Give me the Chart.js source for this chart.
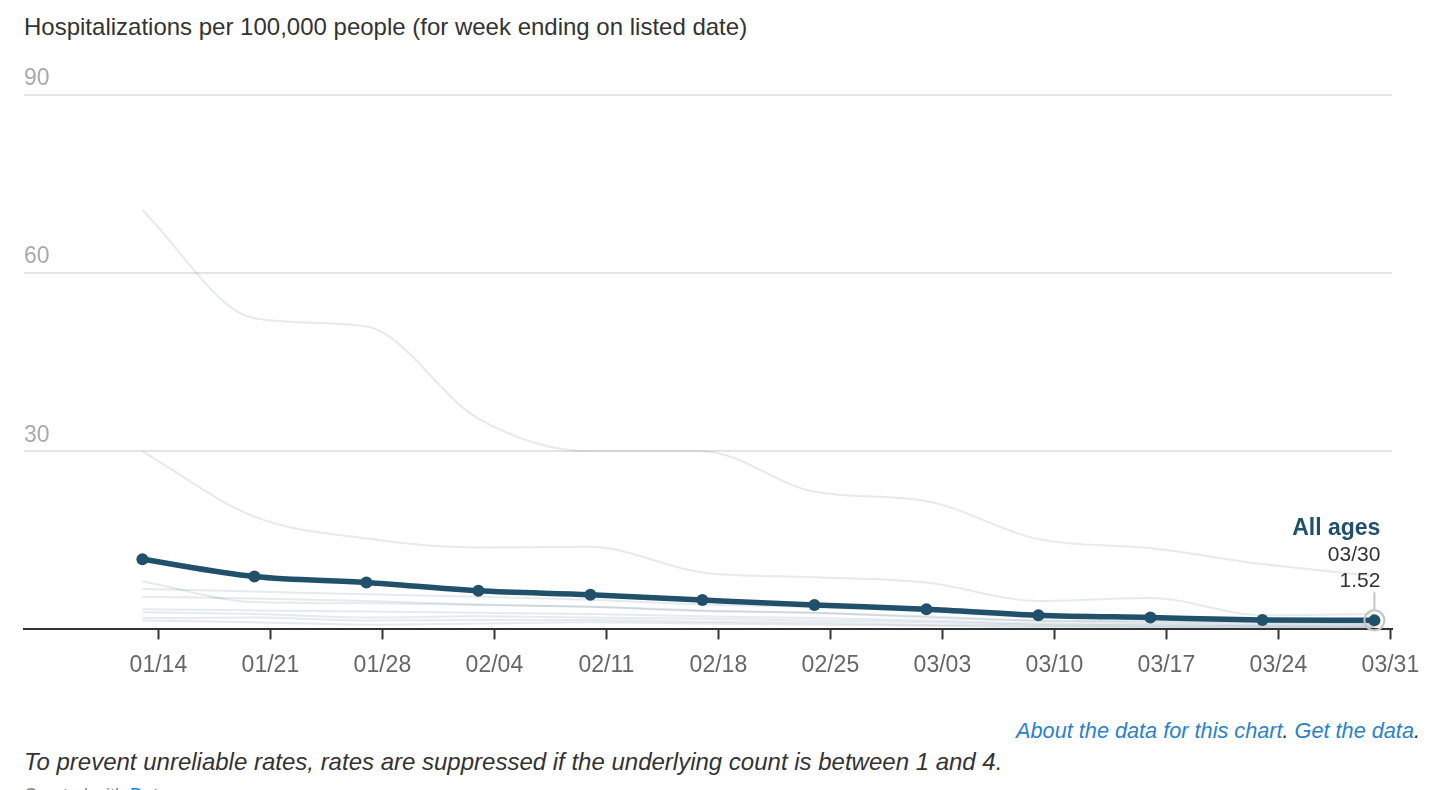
<!DOCTYPE html>
<html>
<head>
<meta charset="utf-8">
<title>Hospitalizations per 100,000 people</title>
<script src="https://cdn.jsdelivr.net/npm/chart.js@4.4.1/dist/chart.umd.min.js"></script>
<style>
    body {
        margin: 0;
        width: 1452px;
        height: 790px;
        overflow: hidden;
        position: relative;
        background: #fff;
        font-family: 'Liberation Sans', Arial, Helvetica, sans-serif;
        color: #333;
    }
    #title {
        position: absolute;
        left: 24px;
        top: 12px;
        font-size: 24px;
        line-height: 30px;
        white-space: nowrap;
    }
    #chartWrap {
        position: absolute;
        left: 0;
        top: 0;
    }
    .note {
        position: absolute;
        font-style: italic;
        font-size: 22px;
        line-height: 26px;
        white-space: nowrap;
    }
    #links { right: 32px; top: 718px; font-size: 21.7px; color: #333; }
    #links span { color: #2a82c9; }
    #caption { left: 24px; top: 748px; font-size: 24px; line-height: 28px; }
    #credit { left: 24px; top: 782px; font-style: normal; font-size: 18px; color: #888; }
    #credit span { color: #2a82c9; }
</style>
</head>
<body>
<div id="title">Hospitalizations per 100,000 people (for week ending on listed date)</div>
<div id="chartWrap"><canvas id="hospChart" width="1452" height="700"></canvas></div>
<div class="note" id="links"><span>About the data for this chart</span>. <span>Get the data</span>.</div>
<div class="note" id="caption">To prevent unreliable rates, rates are suppressed if the underlying count is between 1 and 4.</div>
<div class="note" id="credit">Created with <span>Datawrapper</span></div>

<script>
// week ending dates (2024) and x-axis tick labels
const weekEnding = ['01/13', '01/20', '01/27', '02/03', '02/10', '02/17', '02/24', '03/02', '03/09', '03/16', '03/23', '03/30'];
const tickDates = ['01/14', '01/21', '01/28', '02/04', '02/11', '02/18', '02/25', '03/03', '03/10', '03/17', '03/24', '03/31'];
const yTicks = [0, 30, 60, 90];

// highlighted series
const allAges = [11.8, 8.9, 7.9, 6.5, 5.85, 4.95, 4.1, 3.4, 2.4, 2.0, 1.6, 1.52];

// other age groups (faint background lines)
const otherGroup1 = [70.6, 52.4, 51.0, 35.5, 30.0, 30.0, 23.2, 21.6, 15.2, 13.7, 11.0, 9.0];
const otherGroup2 = [30.0, 19.0, 15.3, 13.8, 13.9, 9.6, 8.8, 7.9, 4.8, 5.3, 2.4, 2.6];
const otherGroup3 = [8.1, 4.6, 4.4, 4.1, 3.8, 3.1, 2.8, 2.2, 1.5, 1.4, 1.2, 1.0];
const otherGroup4 = [6.8, 6.4, 5.9, 5.5, 5.0, 4.2, 3.8, 3.0, 2.0, 1.8, 1.4, 1.3];
const otherGroup5 = [5.5, 5.2, 4.8, 4.2, 3.8, 3.2, 2.8, 2.0, 1.4, 1.2, 1.0, 0.9];
const otherGroup6 = [3.4, 3.2, 3.0, 2.8, 2.6, 2.2, 1.9, 1.5, 1.0, 0.9, 0.7, 0.7];
const otherGroup7 = [2.9, 2.6, 2.0, 2.2, 2.0, 1.8, 1.5, 1.2, 0.8, 0.7, 0.6, 0.5];
const otherGroup8 = [1.9, 2.0, 1.5, 1.6, 1.6, 1.3, 1.1, 0.8, 0.6, 0.5, 0.4, 0.4];
const otherGroup9 = [1.5, 1.2, 0.8, 1.0, 1.2, 1.0, 0.8, 0.6, 0.4, 0.4, 0.3, 0.3];

const otherGroups = [otherGroup1, otherGroup2, otherGroup3, otherGroup4, otherGroup5,
    otherGroup6, otherGroup7, otherGroup8, otherGroup9];

const MAIN_COLOR = '#21506a';
const FAINT_COLOR = 'rgba(33, 80, 106, 0.12)';

// 2024 is a leap year
const monthStart = [0, 31, 60, 91, 121, 152, 182, 213, 244, 274, 305, 335];

function dayOfYear(mmdd) {
    const [m, d] = mmdd.split('/').map(Number);
    return monthStart[m - 1] + d;
}

const weekDays = weekEnding.map(dayOfYear);
const tickDays = tickDates.map(dayOfYear);

function toPoints(values) {
    return values.map((v, i) => ({ x: weekDays[i], y: v }));
}

/**
 * Label + ring for the last point of the highlighted line
 */
const lastPointLabel = {
    id: 'lastPointLabel',
    afterDatasetsDraw(chart) {
        const meta = chart.getDatasetMeta(0);
        const pt = meta.data[meta.data.length - 1];
        const last = allAges.length - 1;
        const ctx = chart.ctx;
        ctx.save();

        ctx.strokeStyle = '#c4c4c4';
        ctx.lineWidth = 2;
        ctx.beginPath();
        ctx.arc(pt.x, pt.y, 10, 0, Math.PI * 2);
        ctx.stroke();
        ctx.beginPath();
        ctx.moveTo(pt.x, pt.y - 10);
        ctx.lineTo(pt.x, pt.y - 28);
        ctx.stroke();

        ctx.textAlign = 'right';
        ctx.textBaseline = 'middle';
        ctx.fillStyle = MAIN_COLOR;
        ctx.font = 'bold 23px "Liberation Sans", Arial, sans-serif';
        ctx.fillText('All ages', pt.x + 6, pt.y - 92);
        ctx.fillStyle = '#333';
        ctx.font = '21px "Liberation Sans", Arial, sans-serif';
        ctx.fillText(weekEnding[last], pt.x + 6, pt.y - 65);
        ctx.fillText(allAges[last].toFixed(2), pt.x + 6, pt.y - 39);
        ctx.restore();
    }
};

const datasets = [{
    label: 'All ages',
    data: toPoints(allAges),
    borderColor: MAIN_COLOR,
    backgroundColor: MAIN_COLOR,
    borderWidth: 5.5,
    pointRadius: 6,
    pointBorderWidth: 0,
    cubicInterpolationMode: 'monotone'
}];

otherGroups.forEach((values, i) => {
    datasets.push({
        label: 'Group ' + (i + 1),
        data: toPoints(values),
        borderColor: FAINT_COLOR,
        borderWidth: 2,
        pointRadius: 0,
        cubicInterpolationMode: 'monotone'
    });
});

new Chart(document.getElementById('hospChart'), {
    type: 'line',
    data: { datasets },
    options: {
        responsive: false,
        animation: false,
        layout: {
            padding: { top: 95, left: 24, right: 60, bottom: 9 }
        },
        plugins: {
            legend: { display: false },
            tooltip: { enabled: false }
        },
        scales: {
            x: {
                type: 'linear',
                min: weekDays[0] - 7.4,
                max: tickDays[tickDays.length - 1] + 0.1,
                afterBuildTicks: (scale) => {
                    scale.ticks = tickDays.map(v => ({ value: v }));
                },
                ticks: {
                    autoSkip: false,
                    maxRotation: 0,
                    color: '#666',
                    padding: 12,
                    font: { family: "'Liberation Sans', Arial, sans-serif", size: 23 },
                    callback: (value) => tickDates[tickDays.indexOf(value)]
                },
                grid: {
                    drawOnChartArea: false,
                    drawTicks: true,
                    tickLength: 10,
                    tickWidth: 2,
                    tickColor: '#333'
                },
                border: {
                    display: true,
                    color: '#333',
                    width: 2
                }
            },
            y: {
                min: yTicks[0],
                max: yTicks[yTicks.length - 1],
                afterBuildTicks: (scale) => {
                    scale.ticks = yTicks.map(v => ({ value: v }));
                },
                ticks: {
                    mirror: true,
                    padding: 0,
                    labelOffset: -16,
                    color: '#aaa',
                    font: { family: "'Liberation Sans', Arial, sans-serif", size: 23 },
                    callback: (value) => value === 0 ? '' : value
                },
                grid: {
                    color: '#e4e4e4',
                    lineWidth: 2,
                    drawTicks: false
                },
                border: { display: false }
            }
        }
    },
    plugins: [lastPointLabel]
});
</script>
</body>
</html>
